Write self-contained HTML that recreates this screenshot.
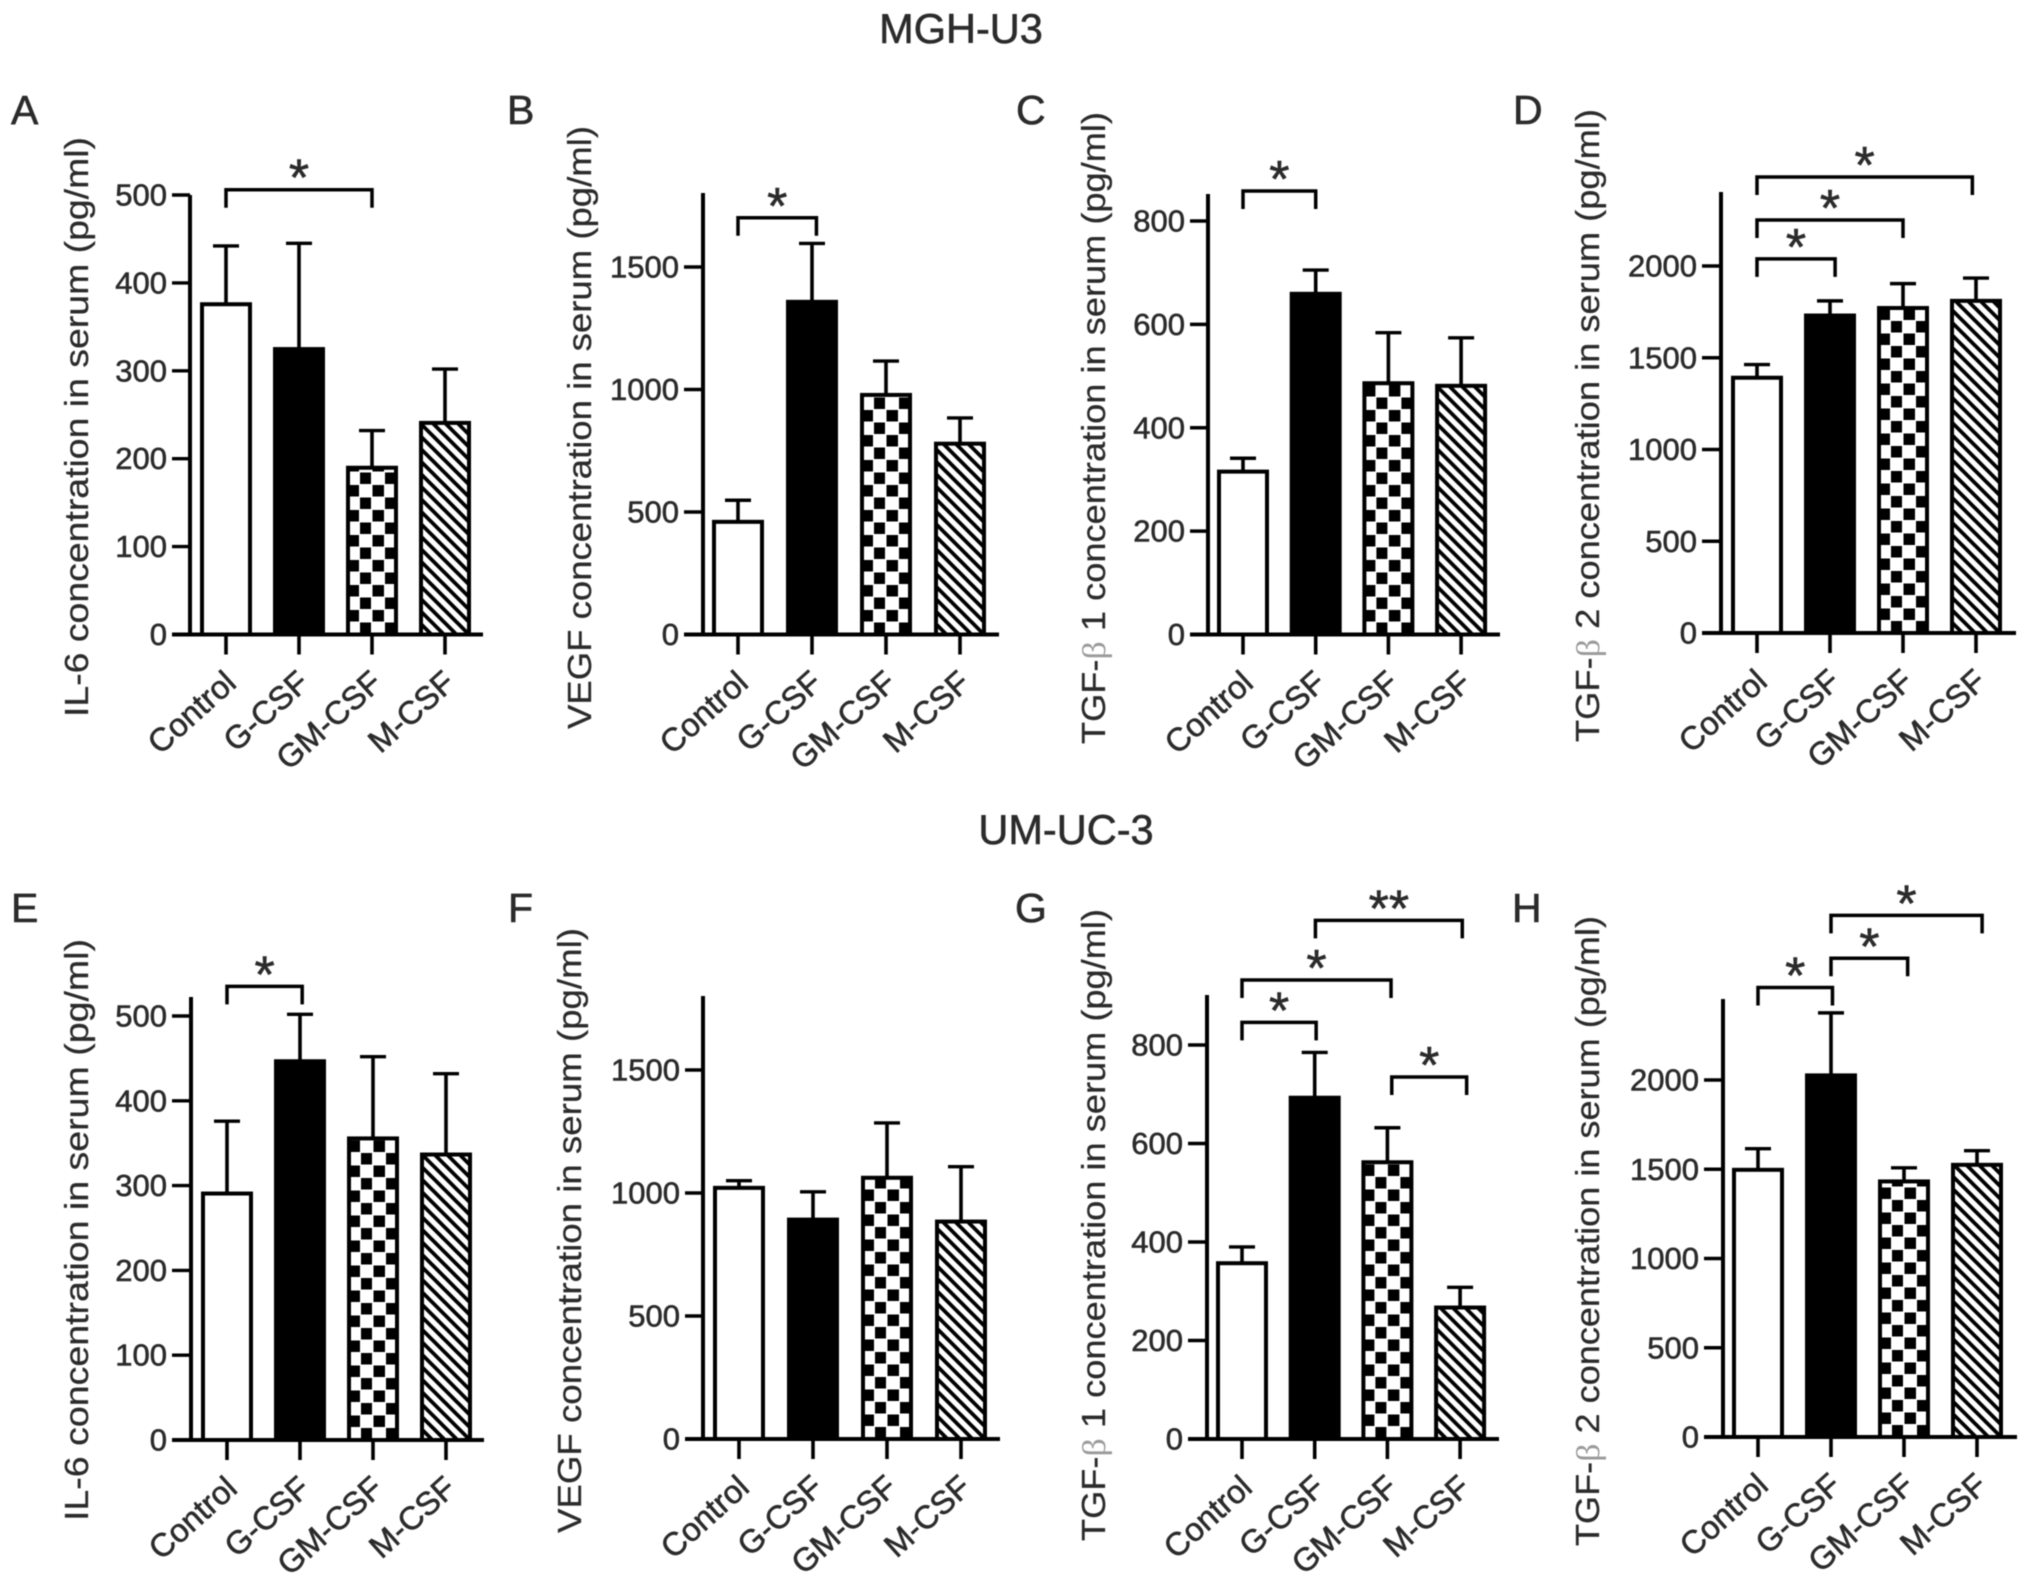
<!DOCTYPE html>
<html lang="en">
<head>
<meta charset="utf-8">
<title>Cytokine concentrations in serum</title>
<style>
  html, body { margin: 0; padding: 0; background: #fff; }
  #figure { display: block; width: 2031px; height: 1579px; filter: blur(0.6px); }
  text { font-family: "Liberation Sans", sans-serif; fill: #2b2b2b; stroke: #2b2b2b; stroke-width: 0.6px; }
  .y-title { stroke-width: 0.25px; }
</style>
</head>
<body>
<svg id="figure" xmlns="http://www.w3.org/2000/svg" width="2031" height="1579" viewBox="0 0 2031 1579">
  <rect width="2031" height="1579" fill="#fff"/>
  <defs id="pattern-defs"></defs>
  <text x="961" y="43" text-anchor="middle" font-size="41.5">MGH-U3</text>
  <text x="1066" y="844" text-anchor="middle" font-size="41.5">UM-UC-3</text>
</svg>
<script>
const categories = ['Control', 'G-CSF', 'GM-CSF', 'M-CSF'];

const panelLetters = ['A', 'B', 'C', 'D', 'E', 'F', 'G', 'H'];
const panelTitles = [
  ['IL-6 concentration in serum (pg/ml)'],
  ['VEGF concentration in serum (pg/ml)'],
  ['TGF-', '\u03B2', ' 1 concentration in serum (pg/ml)'],
  ['TGF-', '\u03B2', ' 2 concentration in serum (pg/ml)'],
  ['IL-6 concentration in serum (pg/ml)'],
  ['VEGF concentration in serum (pg/ml)'],
  ['TGF-', '\u03B2', ' 1 concentration in serum (pg/ml)'],
  ['TGF-', '\u03B2', ' 2 concentration in serum (pg/ml)']
];

const ticksIL6 = [0, 100, 200, 300, 400, 500];
const ticksVEGF = [0, 500, 1000, 1500];
const ticksTGFb1 = [0, 200, 400, 600, 800];
const ticksTGFb2 = [0, 500, 1000, 1500, 2000];

const valuesA = [378, 327, 192, 243];
const errorsA = [64, 118, 40, 59];
const bracketsA = [{ from: 0, to: 2, level: 506, label: '*' }];

const valuesB = [468, 1366, 986, 787];
const errorsB = [80, 230, 130, 97];
const bracketsB = [{ from: 0, to: 1.06, level: 1701, label: '*' }];

const valuesC = [319, 663, 490, 485];
const errorsC = [22, 42, 94, 89];
const bracketsC = [{ from: 0, to: 1, level: 858, label: '*' }];

const valuesD = [1402, 1741, 1782, 1821];
const errorsD = [61, 69, 122, 113];
const bracketsD = [
  { from: 0, to: 1.07, level: 2039, label: '*' },
  { from: 0, to: 2, level: 2251, label: '*' },
  { from: 0, to: 2.95, level: 2485, label: '*' }
];

const valuesE = [293, 449, 358, 339];
const errorsE = [83, 53, 94, 93];
const bracketsE = [{ from: 0, to: 1.03, level: 535, label: '*' }];

const valuesF = [1029, 900, 1070, 892];
const errorsF = [21, 105, 215, 215];
const bracketsF = [];

const valuesG = [361, 697, 566, 271];
const errorsG = [29, 88, 66, 37];
const bracketsG = [
  { from: 0, to: 1.02, level: 846, label: '*' },
  { from: 0, to: 2.05, level: 932, label: '*' },
  { from: 1.01, to: 3.03, level: 1053, label: '**' },
  { from: 2.06, to: 3.09, level: 735, label: '*' }
];

const valuesH = [1508, 2037, 1443, 1536];
const errorsH = [107, 339, 65, 68];
const bracketsH = [
  { from: 0, to: 1.02, level: 2518, label: '*' },
  { from: 1, to: 2.05, level: 2682, label: '*' },
  { from: 1, to: 3.07, level: 2922, label: '*' }
];

const panelData = [
  { values: valuesA, errors: errorsA, ticks: ticksIL6, brackets: bracketsA },
  { values: valuesB, errors: errorsB, ticks: ticksVEGF, brackets: bracketsB },
  { values: valuesC, errors: errorsC, ticks: ticksTGFb1, brackets: bracketsC },
  { values: valuesD, errors: errorsD, ticks: ticksTGFb2, brackets: bracketsD },
  { values: valuesE, errors: errorsE, ticks: ticksIL6, brackets: bracketsE },
  { values: valuesF, errors: errorsF, ticks: ticksVEGF, brackets: bracketsF },
  { values: valuesG, errors: errorsG, ticks: ticksTGFb1, brackets: bracketsG },
  { values: valuesH, errors: errorsH, ticks: ticksTGFb2, brackets: bracketsH }
];

/* Panel frame geometry only: each panel's axis functions derive from this. */
const frames = [
  { y0: 634.5, refV: 500, refY: 195, top: 195, ax: 190, ts: 172, xe: 483, c0: 226, st: 73, tb: 717, tt: 137, tx: 88, lx: 11, ly: 124 },
  { y0: 634.5, refV: 1500, refY: 267, top: 193, ax: 703, ts: 684, xe: 999, c0: 738, st: 74, tb: 729, tt: 126, tx: 591, lx: 507, ly: 124 },
  { y0: 634.5, refV: 800, refY: 221, top: 194, ax: 1208, ts: 1190, xe: 1500, c0: 1243, st: 72.7, tb: 744, tt: 112, tx: 1105, lx: 1016, ly: 124 },
  { y0: 633, refV: 2000, refY: 266, top: 192, ax: 1721, ts: 1702, xe: 2016, c0: 1757, st: 73, tb: 742, tt: 109, tx: 1599, lx: 1513, ly: 124 },
  { y0: 1440, refV: 500, refY: 1016, top: 997, ax: 191, ts: 172, xe: 484, c0: 227, st: 73, tb: 1521, tt: 939, tx: 88, lx: 11, ly: 922 },
  { y0: 1439, refV: 1500, refY: 1070, top: 996, ax: 703, ts: 685, xe: 1000, c0: 739, st: 74, tb: 1533, tt: 928, tx: 581, lx: 508, ly: 922 },
  { y0: 1439, refV: 800, refY: 1045, top: 995, ax: 1207, ts: 1188, xe: 1499, c0: 1242, st: 72.7, tb: 1541, tt: 909, tx: 1105, lx: 1015, ly: 922 },
  { y0: 1437, refV: 2000, refY: 1080, top: 999, ax: 1723, ts: 1704, xe: 2017, c0: 1758, st: 73, tb: 1546, tt: 916, tx: 1599, lx: 1512, ly: 922 }
];

const SVGNS = 'http://www.w3.org/2000/svg';
const figure = document.getElementById('figure');
const defs = document.getElementById('pattern-defs');
const BAR_W = 48;
const STROKE = 4;

function svgEl(tag, attrs, parent) {
  const el = document.createElementNS(SVGNS, tag);
  for (const k in attrs) el.setAttribute(k, attrs[k]);
  parent.appendChild(el);
  return el;
}

function makeCheckerPattern(id, x, y) {
  const p = svgEl('pattern', { id: id, patternUnits: 'userSpaceOnUse', x: x, y: y, width: 25, height: 25 }, defs);
  svgEl('rect', { x: 0, y: 0, width: 25, height: 25, fill: '#fff' }, p);
  svgEl('rect', { x: 14, y: 13, width: 11.5, height: 11.5, fill: '#000' }, p);
  svgEl('rect', { x: 1.5, y: 0.5, width: 11.5, height: 11.5, fill: '#000' }, p);
}

function makeHatchPattern(id, x, y) {
  const p = svgEl('pattern', { id: id, patternUnits: 'userSpaceOnUse', x: x, y: y, width: 12.5, height: 12.5 }, defs);
  svgEl('rect', { x: 0, y: 0, width: 12.5, height: 12.5, fill: '#fff' }, p);
  svgEl('path', { d: 'M-3,-3 L15.5,15.5 M-3,9.5 L3,15.5 M9.5,-3 L15.5,3', stroke: '#000', 'stroke-width': 3.8, fill: 'none' }, p);
}

panelData.forEach(function (data, idx) {
  const f = frames[idx];
  const letter = panelLetters[idx];
  const y = function (v) { return f.y0 - (v / f.refV) * (f.y0 - f.refY); };
  const x = function (c) { return f.c0 + c * f.st; };

  const g = svgEl('g', {}, figure);
  
  

  const letterEl = svgEl('text', { x: f.lx, y: f.ly, 'font-size': 41 }, g);
  letterEl.textContent = letter;
  
  

  const title = svgEl('text', {
    x: f.tx, y: f.tb,
    class: 'y-title',
    transform: 'rotate(-90 ' + f.tx + ' ' + f.tb + ')',
    'font-size': 33,
    textLength: f.tb - f.tt,
    lengthAdjust: 'spacingAndGlyphs'
  }, g);
  
  
  panelTitles[idx].forEach(function (part) {
    const span = svgEl('tspan', {}, title);
    span.textContent = part;
    if (part === '\u03B2') {
      span.setAttribute('style', 'fill:#9a9a9a;stroke:none;font-family:"Liberation Serif",serif');
    }
  });

  data.values.forEach(function (v, i) {
    const left = x(i) - BAR_W / 2;
    const top = y(v) + STROKE / 2;
    let fill = '#fff';
    if (i === 1) fill = '#000';
    if (i === 2) {
      const id = 'checker-' + idx;
      makeCheckerPattern(id, left - 2, f.y0);
      fill = 'url(#' + id + ')';
    }
    if (i === 3) {
      const id = 'hatch-' + idx;
      makeHatchPattern(id, left - 2, f.y0);
      fill = 'url(#' + id + ')';
    }

    const err = data.errors[i];
    const errTop = y(v + err);
    const stem = svgEl('line', { x1: x(i), x2: x(i), y1: top, y2: errTop, stroke: '#000', 'stroke-width': 3.6 }, g);
    
    
    const cap = svgEl('line', { x1: x(i) - 13, x2: x(i) + 13, y1: errTop, y2: errTop, stroke: '#000', 'stroke-width': 3.4 }, g);
    
    

    const bar = svgEl('rect', {
      x: left, y: top, width: BAR_W, height: Math.max(0, f.y0 - top),
      fill: fill, stroke: '#000', 'stroke-width': STROKE
    }, g);
    
    
  });

  const yAxis = svgEl('line', { x1: f.ax, x2: f.ax, y1: f.top, y2: f.y0 + 2, stroke: '#000', 'stroke-width': STROKE }, g);
  
  
  const xAxis = svgEl('line', { x1: f.ts, x2: f.xe, y1: f.y0, y2: f.y0, stroke: '#000', 'stroke-width': STROKE }, g);
  
  

  data.ticks.forEach(function (t) {
    const tick = svgEl('line', { x1: f.ts, x2: f.ax, y1: y(t), y2: y(t), stroke: '#000', 'stroke-width': 3.4 }, g);
    
    
    const label = svgEl('text', { x: f.ts - 5, y: y(t) + 10.5, 'text-anchor': 'end', 'font-size': 31 }, g);
    label.textContent = String(t);
    
    
  });

  categories.forEach(function (c, i) {
    const tick = svgEl('line', { x1: x(i), x2: x(i), y1: f.y0, y2: f.y0 + 20, stroke: '#000', 'stroke-width': 3.6 }, g);
    
    
    const lx = x(i) + 12;
    const ly = f.y0 + 51;
    const label = svgEl('text', {
      x: lx, y: ly, 'text-anchor': 'end', 'font-size': 32.5,
      transform: 'rotate(-42 ' + lx + ' ' + ly + ')'
    }, g);
    label.textContent = c;
    
    
  });

  data.brackets.forEach(function (b) {
    const by = y(b.level);
    const xa = x(b.from);
    const xb = x(b.to);
    const path = svgEl('path', {
      d: 'M' + xa + ' ' + (by + 18) + ' V' + by + ' H' + xb + ' V' + (by + 18),
      fill: 'none', stroke: '#000', 'stroke-width': 3.5
    }, g);
    
    
    const star = svgEl('text', { x: (xa + xb) / 2, y: by + 6, 'text-anchor': 'middle', 'font-size': 52 }, g);
    star.textContent = b.label;
    
    
  });
});
</script>
</body>
</html>
